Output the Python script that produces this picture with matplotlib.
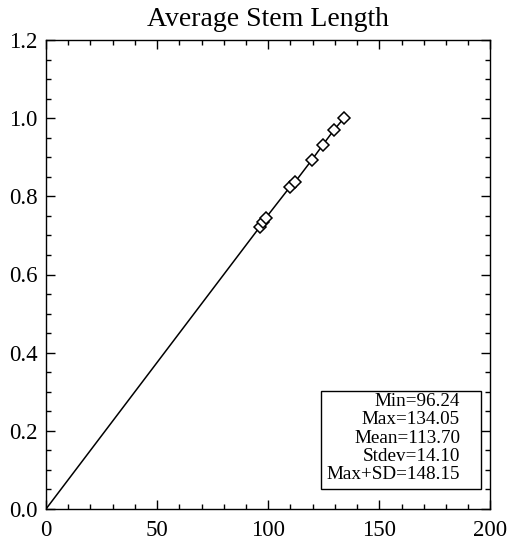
import matplotlib
matplotlib.use("Agg")
import matplotlib.pyplot as plt
from matplotlib.patches import Rectangle
from matplotlib.ticker import MultipleLocator

# Data
stem_length = [96.24, 97.6, 98.8, 109.9, 112.1, 119.6, 124.6, 129.6, 134.05]
fraction = [0.722, 0.735, 0.744, 0.825, 0.837, 0.893, 0.932, 0.970, 1.0]
stats_lines = ["Min=96.24", "Max=134.05", "Mean=113.70", "Stdev=14.10", "Max+SD=148.15"]
title = "Average Stem Length"
x_ticks = [0, 50, 100, 150, 200]
y_ticks = [0.0, 0.2, 0.4, 0.6, 0.8, 1.0, 1.2]

plt.rcParams['font.family'] = ['Liberation Serif', 'DejaVu Serif']

fig = plt.figure(figsize=(5.1, 5.43), dpi=100)
ax = fig.add_axes([46/510, 34/543, 444.5/510, 469/543])

ax.plot([0] + stem_length, [0] + fraction, color='black', lw=1.1)
ax.plot(stem_length, fraction, linestyle='none', marker='D', markersize=6,
        mfc='white', mec='black', mew=1.1)

ax.set_xlim(0, 200)
ax.set_ylim(0, 1.2)
ax.set_xticks(x_ticks)
ax.set_xticklabels([str(t) for t in x_ticks])
ax.set_yticks(y_ticks)
ax.set_yticklabels([f"{t:.1f}" for t in y_ticks])
ax.xaxis.set_minor_locator(MultipleLocator(10))
ax.yaxis.set_minor_locator(MultipleLocator(0.05))
ax.tick_params(which='both', direction='in', top=True, right=True,
               labelsize=16.5, width=1.0, colors='black')
ax.tick_params(which='major', length=6.5)
ax.tick_params(which='minor', length=3.6)
ax.tick_params(axis='x', which='major', pad=8)
ax.tick_params(axis='y', which='major', pad=6)
for s in ax.spines.values():
    s.set_linewidth(1.0)

ax.set_title(title, fontsize=20, pad=10)

# stats box
x0, x1 = 0.619, 0.979
y0, y1 = 0.0426, 0.2516
ax.add_patch(Rectangle((x0, y0), x1 - x0, y1 - y0, transform=ax.transAxes,
                       fill=False, edgecolor='black', lw=1.0))
top_px = 401.7
for i, line in enumerate(stats_lines):
    ypx = top_px + i * 18.3
    ax.text((460 - 46) / 444.5, (509 - ypx) / 469, line, transform=ax.transAxes,
            ha='right', va='center', fontsize=13.8)

fig.savefig("out.png", dpi=100)
